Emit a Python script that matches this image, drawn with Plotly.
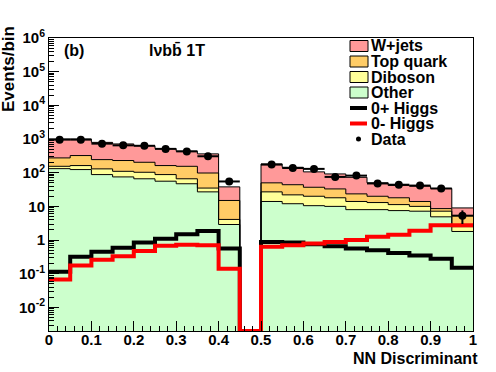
import numpy as np
import plotly.graph_objects as go

# ---- data ----
bin_edges = [round(0.05 * i, 2) for i in range(21)]
other   = [132, 124, 88, 75, 66, 56, 47, 27, 2.9, 0, 14, 12, 10.5, 10, 8, 8, 7.5, 7.2, 4.9, 1.8]
diboson = [23, 39, 42, 35, 37, 32, 19, 8, 1.2, 0, 13, 10, 9.5, 8, 6, 5, 3.8, 2.8, 2.3, 0.7]
topq    = [120, 160, 115, 120, 101, 75, 89, 63, 10.9, 0, 23, 22, 17, 15, 9.5, 7, 6.7, 4, 1.4, 2.8]
wjets   = [725, 677, 550, 485, 431, 357, 280, 265, 23, 0, 132, 101, 69, 59, 49.5, 30, 24, 26, 25.4, 3.7]
data    = [960, 960, 730, 650, 630, 510, 430, 308, 55, None, 174, 138, 130, 75, 82, 48, 44, 41.5, 34, 5.3]
higgs_p = [0.114, 0.32, 0.45, 0.59, 0.84, 1.1, 1.5, 1.85, 0.56, 0, 0.88, 0.84, 0.75, 0.65, 0.56, 0.5, 0.41, 0.35, 0.28, 0.15]
higgs_m = [0.067, 0.175, 0.26, 0.33, 0.47, 0.68, 0.72, 0.70, 0.14, 0, 0.63, 0.70, 0.79, 0.88, 1.0, 1.25, 1.45, 1.9, 2.75, 2.75]
y_tick_exps = [-2, -1, 0, 1, 2, 3, 4, 5, 6]
y_tick_text = ["10<sup>-2</sup>", "10<sup>-1</sup>", "1", "10", "10<sup>2</sup>", "10<sup>3</sup>",
               "10<sup>4</sup>", "10<sup>5</sup>", "10<sup>6</sup>"]

YMIN_LOG, YMAX_LOG = -2.7, 6.0
floor = 10 ** YMIN_LOG

edges = np.array(bin_edges)
centers = (edges[:-1] + edges[1:]) / 2
width = 0.05

c_other = np.array(other, float)
c_dib = c_other + np.array(diboson, float)
c_top = c_dib + np.array(topq, float)
c_wj = c_top + np.array(wjets, float)

FONT = "Liberation Sans"
fig = go.Figure()

stack = [
    (c_wj, "#ff9999", "W+jets"),
    (c_top, "#ffcc66", "Top quark"),
    (c_dib, "#ffff99", "Diboson"),
    (c_other, "#ccffcc", "Other"),
]

def step(vals):
    a = np.array(vals, float)
    v = np.where(a > 0, a, floor)
    return list(edges), list(v) + [v[-1]]

for vals, col, name in stack:
    fig.add_trace(go.Bar(x=centers, y=np.where(vals > 0, vals, np.nan), width=width,
                         marker=dict(color=col, line=dict(width=0)), showlegend=False))
for vals, col, name in stack:
    sx, sy = step(vals)
    fig.add_trace(go.Scatter(x=sx, y=sy, mode="lines", line=dict(color="black", width=1, shape="hv"),
                             showlegend=False))

for vals, col in [(higgs_p, "black"), (higgs_m, "#ff0000")]:
    sx, sy = step(vals)
    fig.add_trace(go.Scatter(x=sx, y=sy, mode="lines", line=dict(color=col, width=4, shape="hv"),
                             showlegend=False))

d = np.array([np.nan if v is None else v for v in data], float)
fig.add_trace(go.Scatter(x=centers, y=d, mode="markers",
                         marker=dict(color="black", size=8, symbol="circle"),
                         error_x=dict(type="constant", value=width / 2, color="black", thickness=2, width=0),
                         error_y=dict(type="data", array=np.sqrt(np.nan_to_num(d)), color="black", thickness=2, width=0),
                         showlegend=False))

# ---- manual legend (ROOT-style) ----
L, R, T, B = 49, 473, 38, 331
def px(x):
    return (x - L) / (R - L)
def py(y):
    return (B - y) / (B - T)

leg_rows = [46, 61.5, 77, 92.5, 108, 123.5, 139]
shapes = []
annotations = []
leg_items = [("box", "#ff9999", "W+jets"), ("box", "#ffcc66", "Top quark"), ("box", "#ffff99", "Diboson"),
             ("box", "#ccffcc", "Other"), ("line", "black", "0+ Higgs"), ("line", "#ff0000", "0- Higgs"),
             ("marker", "black", "Data")]
for (kind, col, name), yc in zip(leg_items, leg_rows):
    if kind == "box":
        shapes.append(dict(type="rect", xref="paper", yref="paper", x0=px(350), x1=px(368),
                           y0=py(yc + 5.5), y1=py(yc - 5.5), fillcolor=col, line=dict(color="black", width=1)))
    elif kind == "line":
        shapes.append(dict(type="line", xref="paper", yref="paper", x0=px(350), x1=px(367),
                           y0=py(yc), y1=py(yc), line=dict(color=col, width=4)))
    else:
        shapes.append(dict(type="circle", xref="paper", yref="paper", x0=px(356), x1=px(361),
                           y0=py(yc + 2.5), y1=py(yc - 2.5), fillcolor="black", line=dict(color="black", width=0)))
    annotations.append(dict(text=name, xref="paper", yref="paper", x=px(369), y=py(yc), xanchor="left",
                            yanchor="middle", showarrow=False, font=dict(family=FONT, size=16, color="black", weight="bold")))

annotations += [
    dict(text="(b)", xref="paper", yref="paper", x=px(62), y=py(50), xanchor="left", yanchor="middle",
         showarrow=False, font=dict(family=FONT, size=16, color="black", weight="bold")),
    dict(text="lνbb̄ 1T", xref="paper", yref="paper", x=px(147), y=py(50), xanchor="left", yanchor="middle",
         showarrow=False, font=dict(family=FONT, size=16, color="black", weight="bold")),
    dict(text="Events/bin", xref="paper", yref="paper", x=px(9), y=py(24), xanchor="center", yanchor="top",
         textangle=-90, showarrow=False, font=dict(family=FONT, size=17, color="black", weight="bold")),
    dict(text="NN Discriminant", xref="paper", yref="paper", x=px(480), y=py(358), xanchor="right", yanchor="middle",
         showarrow=False, font=dict(family=FONT, size=16, color="black", weight="bold")),
]

fig.update_layout(
    width=496, height=372,
    margin=dict(l=L, r=496 - R, t=T, b=372 - B, autoexpand=False),
    paper_bgcolor="white", plot_bgcolor="white",
    barmode="overlay", bargap=0,
    showlegend=False,
    shapes=shapes, annotations=annotations,
    font=dict(family=FONT, size=15, color="black", weight="bold"),
)
fig.update_xaxes(range=[0, 1], dtick=0.1, ticks="inside", ticklen=10, tickwidth=1, tickcolor="black",
                 showline=True, linecolor="black", linewidth=1, mirror=True, showgrid=False, zeroline=False,
                 minor=dict(dtick=0.02, ticks="inside", ticklen=5, tickcolor="black", showgrid=False),
                 tickfont=dict(family=FONT, size=15, weight="bold"), layer="above traces", automargin=False,
                 ticklabelstandoff=-5)
fig.update_yaxes(type="log", range=[YMIN_LOG, YMAX_LOG], tickvals=[10.0 ** v for v in y_tick_exps],
                 ticktext=y_tick_text, ticks="inside", ticklen=10, tickwidth=1, tickcolor="black",
                 showline=True, linecolor="black", linewidth=1, mirror=True, showgrid=False, zeroline=False,
                 minor=dict(dtick="D1", ticks="inside", ticklen=5, tickcolor="black", showgrid=False),
                 tickfont=dict(family=FONT, size=15, weight="bold"), layer="above traces", automargin=False)

fig.write_html("out.html", config={"displayModeBar": False},
               post_script="document.body.style.margin='0';document.body.style.padding='0';")
